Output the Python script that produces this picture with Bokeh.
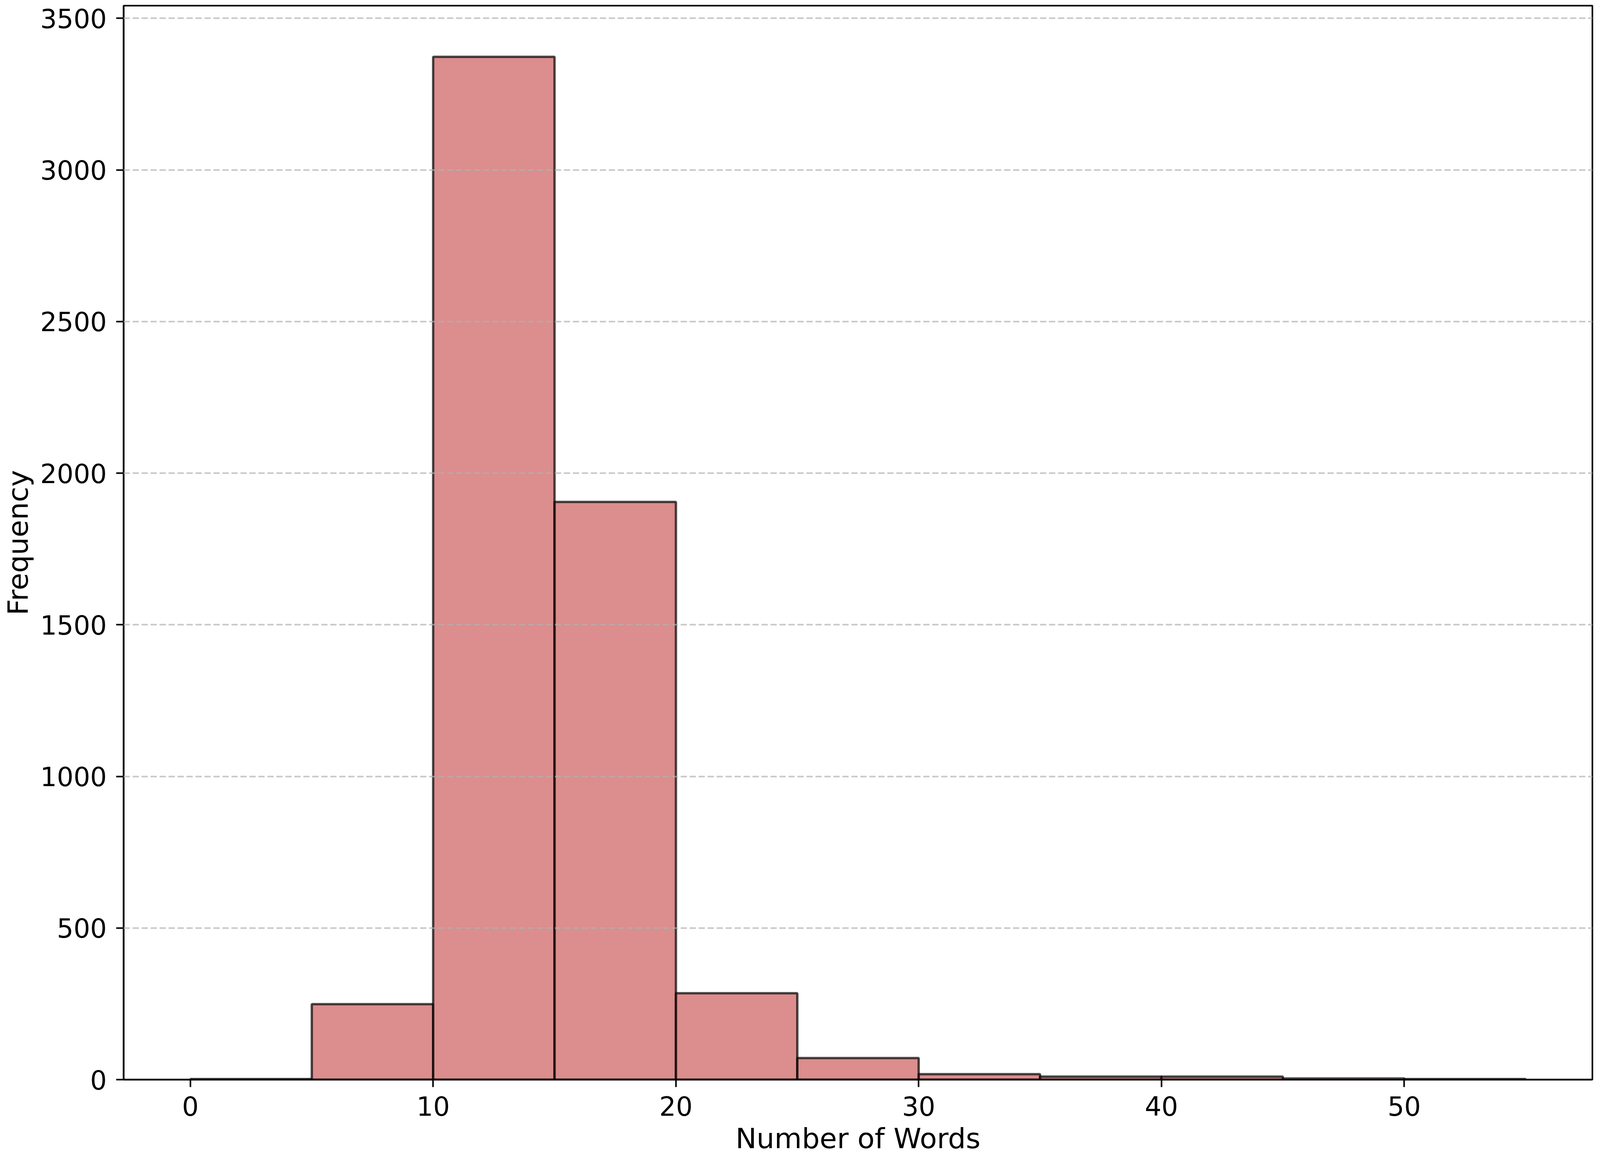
from bokeh.plotting import figure
from bokeh.models import ColumnDataSource, Range1d, FixedTicker
from bokeh.embed import file_html
from bokeh.resources import INLINE

# ---- data ----
bin_left = [0, 5, 10, 15, 20, 25, 30, 35, 40, 45, 50]
bin_right = [5, 10, 15, 20, 25, 30, 35, 40, 45, 50, 55]
counts = [2, 249, 3373, 1905, 285, 71, 18, 10, 10, 4, 2]
x_ticks = [0, 10, 20, 30, 40, 50]
y_ticks = [0, 500, 1000, 1500, 2000, 2500, 3000, 3500]
x_label = "Number of Words"
y_label = "Frequency"

W, H = 4630, 2962
FONT = "DejaVu Sans"

src = ColumnDataSource(dict(left=bin_left, right=bin_right, top=counts,
                            bottom=[0] * len(counts)))

xmin, xmax = min(bin_left), max(bin_right)
xpad = (xmax - xmin) * 0.05
ymax = max(counts) * 1.05

p = figure(width=W, height=H, output_backend="svg", toolbar_location=None,
           sizing_mode="stretch_both",
           x_range=Range1d(xmin - xpad, xmax + xpad), y_range=Range1d(0, ymax),
           min_border_left=310, min_border_right=20, min_border_top=14,
           min_border_bottom=214)
p.background_fill_color = "white"
p.border_fill_color = "white"
p.outline_line_color = "black"
p.outline_line_width = 4

p.quad(left="left", right="right", top="top", bottom="bottom", source=src,
       fill_color="indianred", fill_alpha=0.7,
       line_color="black", line_alpha=0.7, line_width=6)

p.xgrid.visible = False
p.ygrid.grid_line_color = "#b0b0b0"
p.ygrid.grid_line_alpha = 0.7
p.ygrid.grid_line_width = 4
p.ygrid.grid_line_dash = "16 7"
p.ygrid.level = "annotation"

p.xaxis.ticker = FixedTicker(ticks=x_ticks)
p.yaxis.ticker = FixedTicker(ticks=y_ticks)
p.xaxis.axis_label = x_label
p.yaxis.axis_label = y_label

for ax in (p.xaxis, p.yaxis):
    ax.axis_line_color = "black"
    ax.axis_line_width = 4
    ax.major_tick_line_color = "black"
    ax.major_tick_line_width = 4
    ax.major_tick_out = 19
    ax.major_tick_in = 0
    ax.minor_tick_line_color = None
    ax.major_label_text_font = FONT
    ax.major_label_text_font_size = "67px"
    ax.major_label_text_color = "black"
    ax.axis_label_text_font = FONT
    ax.axis_label_text_font_size = "72px"
    ax.axis_label_text_font_style = "normal"
    ax.axis_label_text_color = "black"

p.xaxis.major_label_standoff = 23
p.xaxis.axis_label_standoff = 13
p.yaxis.major_label_standoff = 24
p.yaxis.axis_label_standoff = 12

open("out.html", "w").write(file_html(p, INLINE))
